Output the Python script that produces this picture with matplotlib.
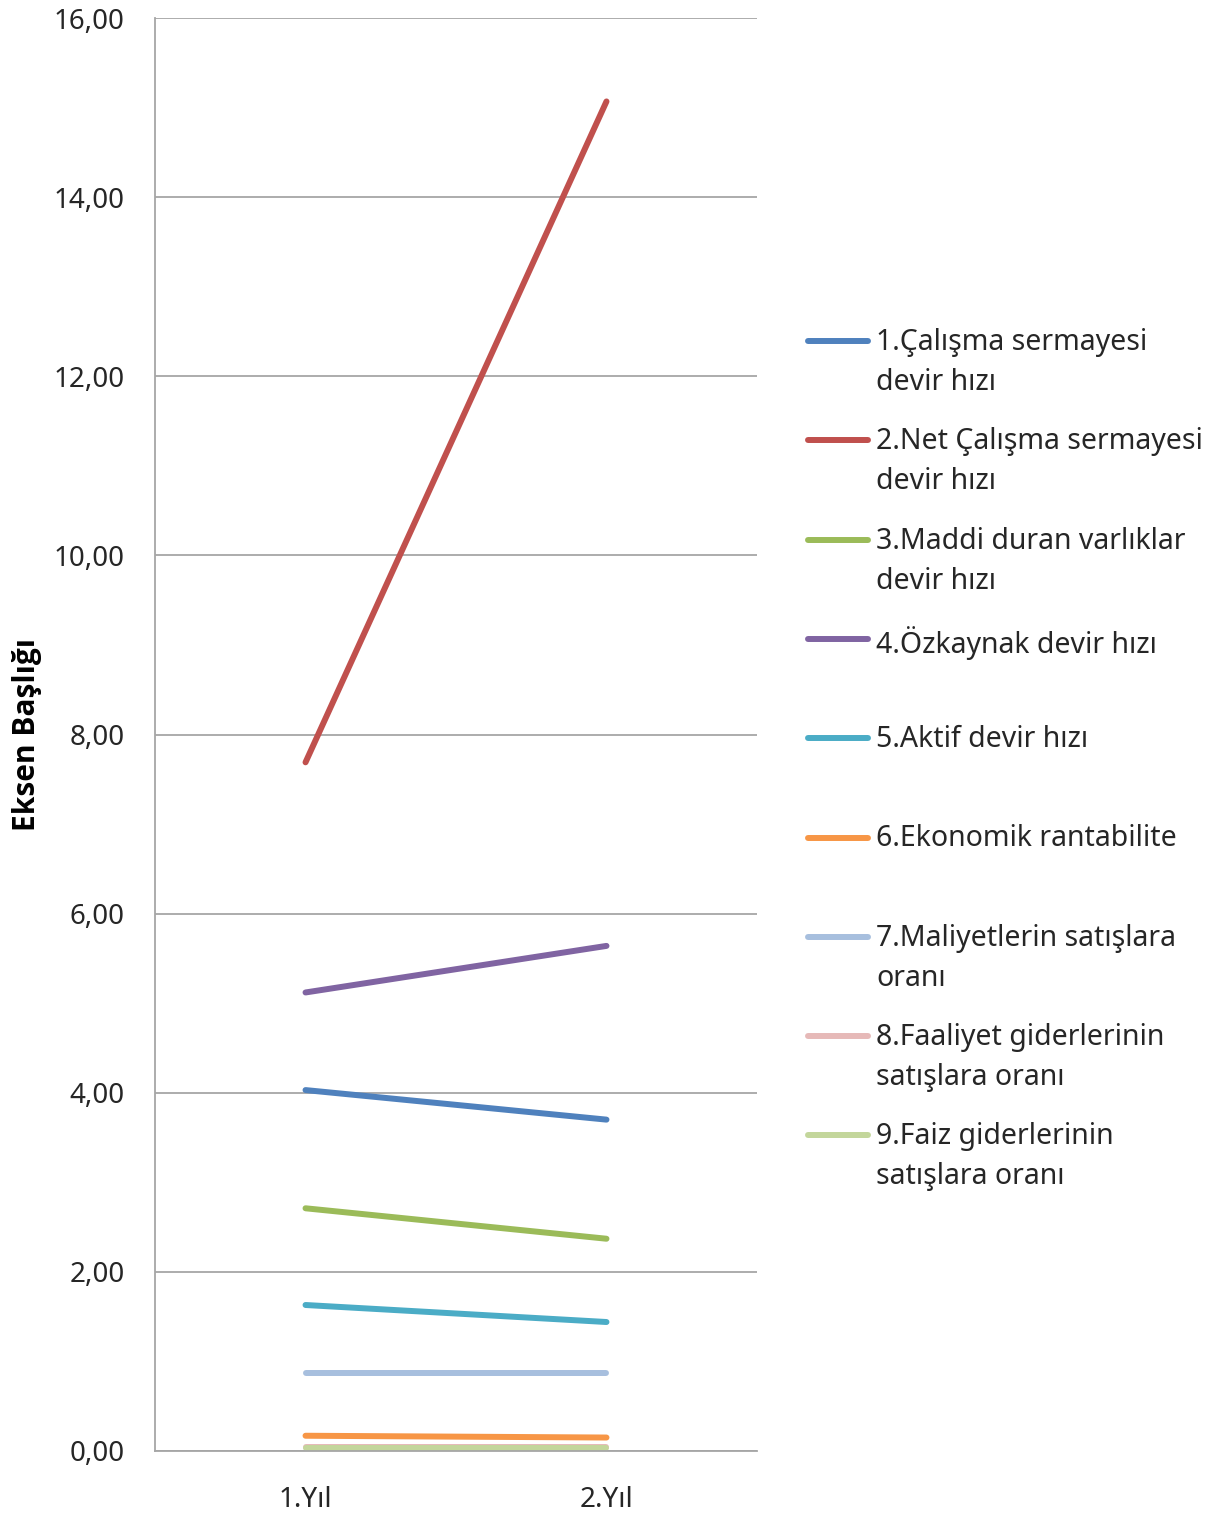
import matplotlib
matplotlib.use("Agg")
import matplotlib.pyplot as plt
from matplotlib.lines import Line2D

plt.rcParams['font.family'] = ['Noto Sans', 'DejaVu Sans']

# Data
years = ["1.Yıl", "2.Yıl"]
names = [
    "1.Çalışma sermayesi\ndevir hızı",
    "2.Net Çalışma sermayesi\ndevir hızı",
    "3.Maddi duran varlıklar\ndevir hızı",
    "4.Özkaynak devir hızı",
    "5.Aktif devir hızı",
    "6.Ekonomik rantabilite",
    "7.Maliyetlerin satışlara\noranı",
    "8.Faaliyet giderlerinin\nsatışlara oranı",
    "9.Faiz giderlerinin\nsatışlara oranı",
]
calisma = [4.03, 3.70]
net_calisma = [7.69, 15.07]
maddi = [2.71, 2.37]
ozkaynak = [5.12, 5.64]
aktif = [1.63, 1.44]
ekonomik = [0.17, 0.15]
maliyet = [0.87, 0.87]
faaliyet = [0.04, 0.04]
faiz = [0.03, 0.03]
series = [calisma, net_calisma, maddi, ozkaynak, aktif, ekonomik, maliyet, faaliyet, faiz]
colors = ["#4F81BD", "#C0504D", "#9BBB59", "#8064A2", "#4BACC6",
          "#F79646", "#A7BFDE", "#E6B9B8", "#C3D69B"]

fig = plt.figure(figsize=(12.16, 15.13), dpi=100)
ax = fig.add_axes([0.1275, 0.041, 0.495, 0.947])

x = range(len(years))
for vals, c in zip(series, colors):
    ax.plot(x, vals, color=c, lw=4.3, solid_capstyle="round")

ax.set_xlim(-0.5, 1.5)
ax.set_ylim(0, 16)
ax.set_yticks(range(0, 17, 2))
ax.set_yticklabels([f"{v:.2f}".replace(".", ",") for v in range(0, 17, 2)],
                   fontsize=20, color="#262626")
ax.set_xticks(list(x))
ax.set_xticklabels(years, fontsize=20, color="#262626")
ax.tick_params(length=0)
ax.tick_params(axis="y", pad=22)
ax.tick_params(axis="x", pad=25)
ax.grid(axis="y", color="#A6A6A6", lw=1.3)
ax.set_axisbelow(True)
for s in ["top", "right"]:
    ax.spines[s].set_visible(False)
for s in ["left", "bottom"]:
    ax.spines[s].set_color("#A6A6A6")
    ax.spines[s].set_linewidth(1.3)
ax.set_ylabel("Eksen Başlığı", fontsize=21.5, fontweight="bold",
              family=["Open Sans", "DejaVu Sans"], labelpad=8)

# legend drawn by hand, one fixed-height slot per entry like Excel
W, H = 1216, 1513
top = 341
step = 99.3
for i, (name, c) in enumerate(zip(names, colors)):
    yp = top + i * step
    fig.add_artist(Line2D([808 / W, 868 / W], [1 - yp / H, 1 - yp / H],
                          color=c, lw=4.3, solid_capstyle="round"))
    fig.text(876 / W, 1 - (yp - 13) / H, name, fontsize=20.5, va="top",
             ha="left", linespacing=1.5, color="#262626")

plt.savefig("out.png", dpi=100)
